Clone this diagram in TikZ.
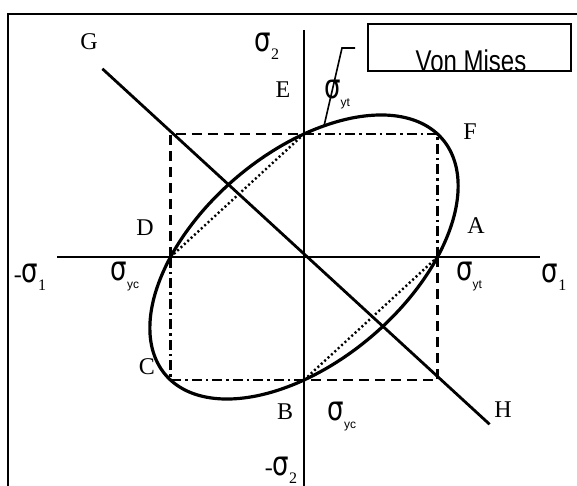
\documentclass[tikz,border=0pt]{standalone}
\usepackage{fontspec}
\usepackage{graphicx}
\setmainfont{Liberation Serif}
\newfontfamily\vmfont{Liberation Sans}
\newfontfamily\sgfont{DejaVu Sans}
\newcommand{\sgm}{\scalebox{1}[1.3]{\fontsize{26}{26}\sgfont σ}}
\newcommand{\ssub}[1]{\raisebox{-8pt}{\fontsize{12}{12}\selectfont\vmfont #1}}
\newcommand{\nsub}[1]{\raisebox{-8pt}{\fontsize{16}{16}\selectfont #1}}
\begin{document}
\begin{tikzpicture}[x=1pt,y=-1pt,
  lbl/.style={inner sep=0pt, font=\fontsize{24}{24}\selectfont},
  sgl/.style={inner sep=0pt},
  sqline/.style={line width=2.5pt, dash pattern=on 10pt off 6pt},
  trline/.style={line width=2.5pt, dash pattern=on 10pt off 4pt on 2.5pt off 4pt},
  dotline/.style={line width=2.4pt, dash pattern=on 2pt off 2.6pt},
  axis/.style={line width=1.4pt},
  curve/.style={line width=3.2pt},
  shear/.style={line width=2.8pt}]
\useasboundingbox (0,0) rectangle (577,486);
% frame
\draw[line width=2.8pt] (8,486) -- (8,14) -- (577,14);
% axes
\coordinate (xl) at (57,257);
\coordinate (xr) at (540,257);
\coordinate (yt) at (304,30);
\coordinate (yb) at (304,486);
\draw[axis] (xl) -- (xr);
\draw[axis] (yt) -- (yb);
\begin{scope}[shift={(304pt,-257pt)}, x=133.5pt, y=123pt]
  \coordinate (A) at (1,0);
  \coordinate (B) at (0,-1);
  \coordinate (C) at (-1,-1);
  \coordinate (D) at (-1,0);
  \coordinate (E) at (0,1);
  \coordinate (F) at (1,1);
  \coordinate (TL) at (-1,1);
  \coordinate (BR) at (1,-1);
  \coordinate (Gend) at (-1.51,1.53);
  \coordinate (Hend) at (1.39,-1.36);
  \draw[sqline] (D) -- (TL) -- (E);
  \draw[sqline] (A) -- (BR) -- (B);
  \draw[trline] (E) -- (F) -- (A);
  \draw[trline] (B) -- (C) -- (D);
  \draw[dotline] (D) -- (E);
  \draw[dotline] (A) -- (B);
  \draw[curve] plot[domain=0:360, samples=121, smooth, variable=\t]
     ({cos(\t)-sin(\t)/sqrt(3)}, {cos(\t)+sin(\t)/sqrt(3)}) -- cycle;
  \draw[shear] (Gend) -- (Hend);
\end{scope}
% leader and Von Mises box
\coordinate (ld1) at (324,126);
\coordinate (ld2) at (342,48);
\coordinate (ld3) at (355,48);
\draw[line width=1.6pt] (ld1) -- (ld2) -- (ld3);
\begin{scope}
  \clip (368,24) rectangle (571,70);
  \node[anchor=base, inner sep=0pt, font=\fontsize{24}{24}\selectfont\vmfont] (vm) at (471,72) {\scalebox{1}[1.25]{Von Mises}};
\end{scope}
\draw[line width=1.6pt] (368,24) rectangle (571,71);
% letter labels
\node[lbl] (lG) at (89,42) {G};
\node[lbl] (lE) at (283,90) {E};
\node[lbl] (lF) at (470,132) {F};
\node[lbl] (lD) at (145,228) {D};
\node[lbl] (lA) at (476,226) {A};
\node[lbl] (lC) at (147,367) {C};
\node[lbl] (lB) at (285,412) {B};
\node[lbl] (lH) at (503,410) {H};
% sigma labels
\node[sgl] (s2) at (267,46) {\sgm\nsub{2}};
\node[sgl] (syt1) at (337,95) {\sgm\ssub{yt}};
\node[sgl] (m1) at (30,277) {\fontsize{24}{24}\selectfont -\sgm\nsub{1}};
\node[sgl] (syc1) at (125,277) {\sgm\ssub{yc}};
\node[sgl] (syt2) at (469,277) {\sgm\ssub{yt}};
\node[sgl] (s1) at (554,277) {\sgm\nsub{1}};
\node[sgl] (syc2) at (342,416) {\sgm\ssub{yc}};
\node[sgl] (m2) at (281,470) {\fontsize{24}{24}\selectfont -\sgm\nsub{2}};
\end{tikzpicture}
\end{document}
